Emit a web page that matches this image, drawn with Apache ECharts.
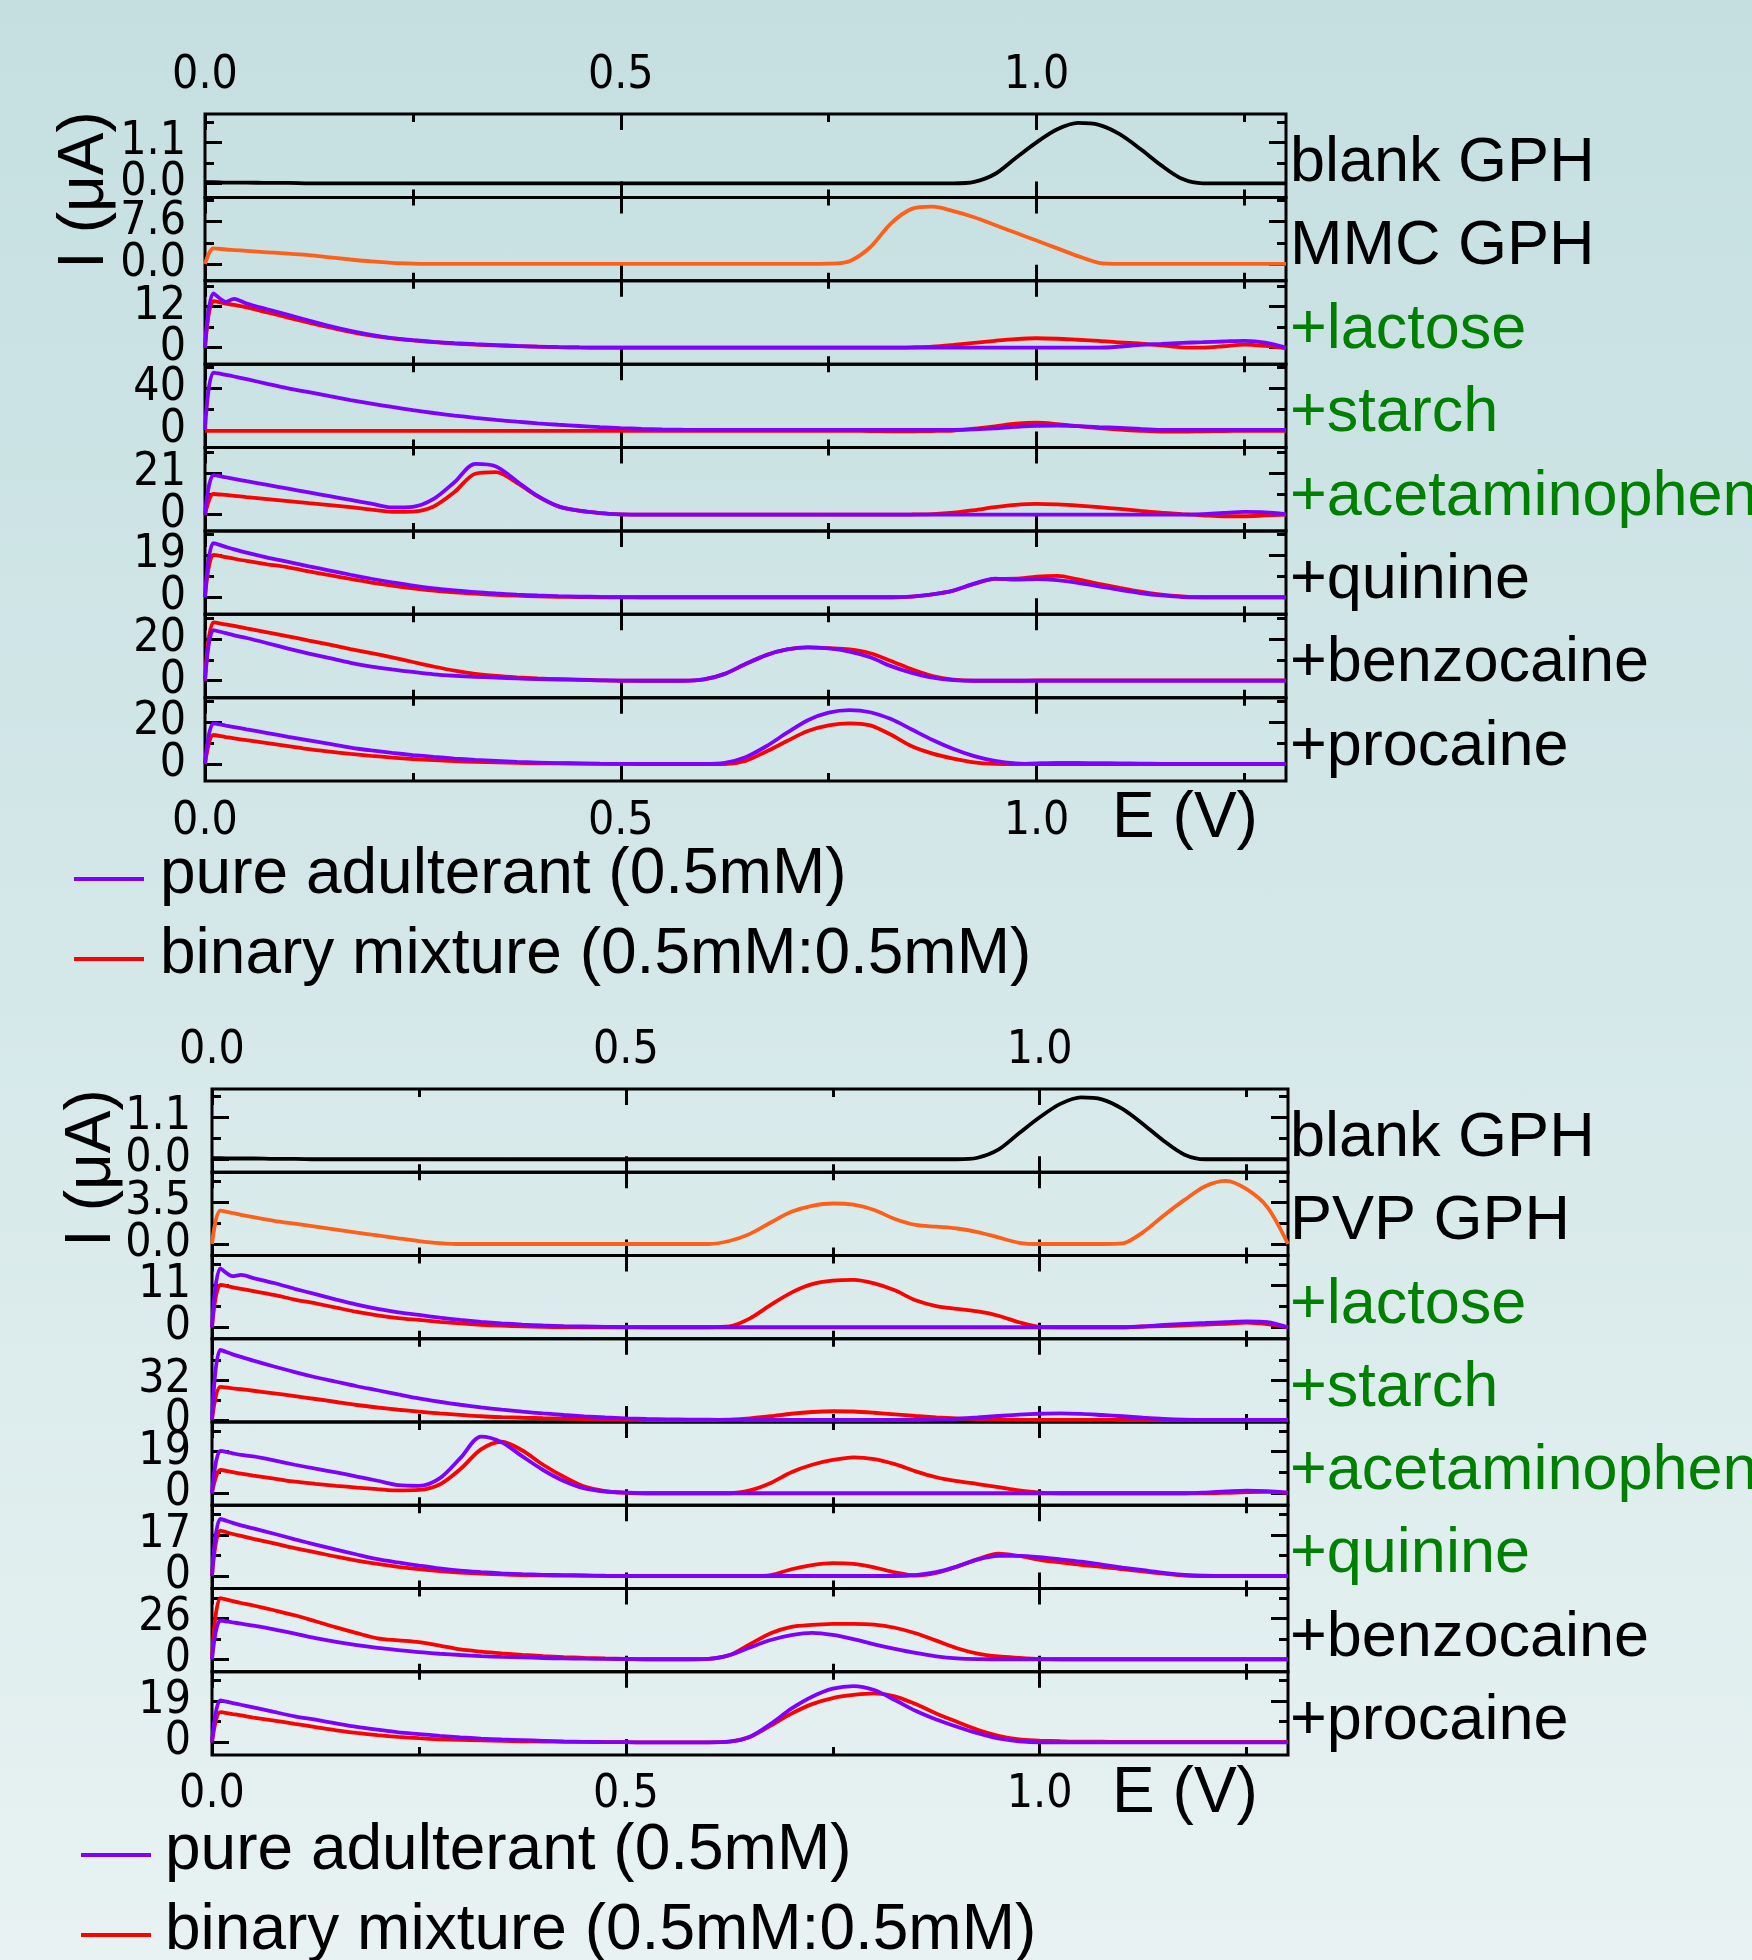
<!DOCTYPE html>
<html>
<head>
<meta charset="utf-8">
<title>GPH voltammograms</title>
<script src="https://cdn.jsdelivr.net/npm/echarts@6.0.0/dist/echarts.min.js"></script>
<style>
html,body{margin:0;padding:0;}
body{width:1752px;height:1960px;overflow:hidden;background:linear-gradient(180deg,#c5dfe1 0%,#d3e7e8 45%,#e8f2f2 100%);}
#chart{width:1752px;height:1960px;}
</style>
</head>
<body>
<div id="chart"></div>
<script>
// ---------- x grid (potential, V) ----------
const E = [0, 0.01, 0.025, 0.035, 0.05, 0.075, 0.1, 0.125, 0.15, 0.175, 0.2, 0.225, 0.25,
  0.275, 0.3, 0.325, 0.35, 0.375, 0.4, 0.425, 0.45, 0.475, 0.5,
  0.525, 0.55, 0.575, 0.6, 0.625, 0.65, 0.675, 0.7, 0.725, 0.75,
  0.775, 0.8, 0.825, 0.85, 0.875, 0.9, 0.925, 0.95, 0.975, 1.0,
  1.025, 1.05, 1.075, 1.1, 1.125, 1.15, 1.175, 1.2, 1.225, 1.25, 1.275, 1.3];

// ---------- currents (µA) ----------
const blankGPH = [0.03,0.03,0.02,0.02,0.02,0.01,0.01,0,0,0,0,0,0,
  0,0,0,0,0,0,0,0,0,0,
  0,0,0,0,0,0,0,0,0,0,
  0,0,0,0,0,0,0.04,0.25,0.68,1.1,
  1.45,1.62,1.57,1.32,0.92,0.48,0.12,0,0,0,0,0];

// MMC GPH figure
const mmcGPH = [0,2.8,2.6,2.5,2.35,2.1,1.85,1.6,1.2,0.8,0.45,0.2,0.07,
  0,0,0,0,0,0,0,0,0,0,
  0,0,0,0,0,0,0,0,0,0.05,
  0.5,3.0,7.3,9.9,10.3,9.5,8.4,7.0,5.6,4.2,
  2.8,1.4,0.2,0,0,0,0,0,0,0,0,0];
const mmcLacPure = [0,15.9,13.4,14.3,12.9,11.2,9.6,7.9,6.3,4.9,3.7,2.8,2.2,
  1.7,1.3,1.0,0.75,0.5,0.3,0.15,0.05,0,0,
  0,0,0,0,0,0,0,0,0,0,
  0,0,0,0,0,0,0,0,0,0,
  0,0,0,0.3,0.8,1.1,1.4,1.6,1.8,2.0,1.5,0];
const mmcLacMix = [0,13.6,12.9,12.5,11.8,10.3,8.8,7.3,5.9,4.6,3.5,2.7,2.1,
  1.6,1.2,0.9,0.65,0.45,0.3,0.15,0.05,0,0,
  0,0,0,0,0,0,0,0,0,0,
  0,0,0,0.1,0.3,0.8,1.4,2.0,2.5,2.75,
  2.6,2.3,2.0,1.5,1.2,0.7,0.1,0,0.4,0.9,0.5,-0.2];
const mmcStaPure = [0,54.6,52.5,51.0,48.5,44.0,39.7,36.0,32.2,28.5,25.2,22.0,19.0,
  16.2,13.8,11.6,9.6,7.9,6.4,5.0,3.8,2.7,1.8,
  1.1,0.6,0.3,0.1,0,0,0,0,0,0,
  0,0,0,0,0,0.1,0.5,1.5,3.0,4.0,
  4.1,3.6,2.8,2.0,1.0,0.2,0,0,0,0,0,0];
const mmcStaMix = [-0.8,-0.8,-0.8,-0.8,-0.8,-0.8,-0.8,-0.8,-0.8,-0.8,-0.8,-0.8,-0.8,
  -0.8,-0.8,-0.8,-0.8,-0.8,-0.8,-0.8,-0.8,-0.8,-0.8,
  -0.8,-0.8,-0.8,-0.8,-0.8,-0.8,-0.8,-0.8,-0.8,-0.8,
  -0.8,-1.0,-1.2,-1.2,-1.0,-0.5,1.2,3.5,6.0,6.9,
  5.6,3.6,1.8,0.3,-0.8,-1.5,-1.5,-1.2,-1.0,-0.8,-0.8,-0.8];
const mmcAcePure = [0,20.1,19.0,18.2,17.0,15.1,13.2,11.3,9.4,7.5,5.6,3.7,4.0,
  8.0,16.5,25.8,24.5,17.0,9.5,4.2,2.0,0.8,0.2,
  0,0,0,0,0,0,0,0,0,0,
  0,0,0,0,0,0,0,0,0,0,
  0,0,0,0,0,0,0,0.3,0.9,1.4,1.2,0.3];
const mmcAceMix = [0,10.5,10.0,9.6,8.9,7.9,6.9,5.9,4.9,3.8,2.6,1.5,1.6,
  4.2,11.5,20.8,21.6,16.2,9.3,4.2,2.0,0.8,0.2,
  0,0,0,0,0,0,0,0,0,0,
  0,0,0,0.1,0.3,1.0,2.3,3.8,5.0,5.5,
  5.2,4.6,3.8,2.9,1.9,1.0,0.3,-0.3,-0.8,-0.8,-0.4,0];
const mmcQuiPure = [0,24.3,22.6,21.5,20.0,17.8,15.9,13.9,12.0,10.1,8.3,6.7,5.2,
  4.0,3.1,2.3,1.7,1.2,0.8,0.5,0.3,0.15,0.05,
  0,0,0,0,0,0,0,0,0,0,
  0,0,0,0.3,1.3,3.0,6.1,8.4,7.9,8.1,
  7.7,6.5,4.9,3.3,1.9,0.8,0.1,0,0,0,0,0];
const mmcQuiMix = [0,19.0,18.0,17.3,16.3,14.8,13.4,11.6,9.9,8.2,6.6,5.2,4.0,
  3.0,2.2,1.6,1.1,0.7,0.4,0.2,0.1,0,0,
  0,0,0,0,0,0,0,0,0,0,
  0,0,0,0.3,1.3,3.0,6.0,8.2,8.3,9.3,
  9.6,8.0,6.0,4.2,2.5,1.2,0.4,0,0,0,0,0];
const mmcBenPure = [0,24.3,22.8,21.8,20.5,18.0,15.4,13.0,10.8,8.6,6.8,5.4,4.2,
  3.1,2.4,1.9,1.5,1.1,0.8,0.6,0.4,0.2,0.1,
  0,0,0,0.6,3.3,8.0,12.3,15.0,16.0,15.5,
  14.0,11.3,7.0,3.8,1.5,0.3,0,0,0,0,
  0,0,0,0,0,0,0,0,0,0,0,0];
const mmcBenMix = [0,28.0,27.0,26.3,25.1,23.2,21.3,19.3,17.3,15.2,13.3,11.2,9.0,
  6.8,4.8,3.3,2.3,1.6,1.1,0.8,0.5,0.2,0,
  0,0,0,0.6,3.3,8.0,12.3,15.0,16.0,15.6,
  15.0,13.2,9.5,5.5,2.2,0.5,0,0,0,0.2,
  0.2,0.2,0.2,0.2,0.2,0.2,0.2,0.2,0.2,0.2,0.2,0.2];
const mmcProPure = [0,19.5,18.4,17.7,16.6,14.8,13.0,11.3,9.6,7.9,6.5,5.3,4.3,
  3.4,2.6,2.0,1.5,1.0,0.7,0.45,0.3,0.15,0.05,
  0,0,0,0,0.5,3.2,8.5,15.0,21.0,24.6,
  25.8,24.8,21.5,16.5,11.5,7.2,3.8,1.5,0.3,0,
  0,0,0,0,0,0,0,0,0,0,0,0];
const mmcProMix = [0,13.9,12.9,12.3,11.4,10.0,8.6,7.1,5.9,4.8,3.9,3.1,2.4,
  1.85,1.4,1.0,0.75,0.5,0.35,0.25,0.2,0.1,0.05,
  0,0,0,0,0,1.5,6.0,11.0,15.8,18.5,
  19.5,18.5,14.0,8.5,5.0,2.6,0.8,0.1,0,0.3,
  0.5,0.5,0.4,0.3,0.2,0.1,0,0,0,0,0,0];

// PVP GPH figure
const pvpGPH = [0,2.8,2.6,2.45,2.25,1.95,1.7,1.45,1.2,0.95,0.72,0.48,0.25,
  0.08,0,0,0,0,0,0,0,0,0,
  0,0,0,0,0.25,0.85,1.8,2.7,3.2,3.4,
  3.3,2.85,2.1,1.6,1.45,1.3,1.0,0.55,0.1,0,
  0,0,0,0.05,1.0,2.4,3.7,4.85,5.3,4.6,3.1,0];
const pvpLacPure = [0,15.3,13.3,13.6,12.8,11.5,10.0,8.6,7.2,5.9,4.8,3.9,3.2,
  2.5,1.9,1.4,1.0,0.7,0.45,0.3,0.2,0.1,0.05,
  0,0,0,0,0,0,0,0,0,0,
  0,0,0,0,0,0,0,0,0,0,
  0,0,0,0,0.2,0.6,0.9,1.1,1.3,1.5,1.3,0];
const pvpLacMix = [0,11.0,10.4,10.0,9.4,8.4,7.2,6.2,5.1,4.0,3.1,2.4,1.9,
  1.4,1.0,0.65,0.4,0.25,0.1,0.05,0,0,0,
  0,0,0,0,0.2,2.3,5.8,9.0,11.2,12.1,
  12.3,11.4,9.6,7.0,5.5,4.8,4.1,3.0,1.3,0.1,
  0,0,0,0,0.2,0.3,0.5,0.7,0.9,1.2,0.8,0];
const pvpStaPure = [0,56.0,52.5,50.5,47.5,42.8,38.3,34.2,30.6,27.0,23.8,20.5,17.3,
  14.6,12.2,10.1,8.3,6.7,5.3,4.0,2.9,2.0,1.3,
  0.8,0.5,0.3,0.2,0.1,0,0,0,0,0,
  0,0,0,0,0.3,1.0,2.0,3.2,4.3,5.0,
  5.3,4.9,4.0,3.0,1.8,0.8,0.2,0,0,0,0,0];
const pvpStaMix = [0,26.5,25.3,24.6,23.4,21.3,19.1,16.8,14.4,12.0,10.0,8.2,6.7,
  5.3,4.1,3.0,2.3,1.8,1.4,1.1,0.8,0.4,0.1,
  0,0,0,0,0.3,1.3,3.0,5.0,6.4,7.0,
  6.8,5.8,4.5,3.2,2.1,1.3,0.8,0.4,0.2,0.1,
  0.1,0.1,0.1,0,0,0,0,0,0,0,0,0];
const pvpAcePure = [0,19.3,18.2,17.5,16.8,15.0,13.0,11.2,9.5,7.6,5.7,3.7,3.4,
  6.8,16.0,25.8,23.3,16.8,10.6,5.6,2.2,0.8,0.3,
  0,0,0,0,0,0,0,0,0,0,
  0,0,0,0,0,0,0,0,0,0,
  0,0,0,0,0,0,0,0.3,0.8,1.2,1.0,0.3];
const pvpAceMix = [0,10.6,9.6,8.9,8.0,6.7,5.3,4.3,3.4,2.6,1.9,1.3,1.5,
  4.0,11.0,20.0,23.5,19.5,13.0,7.5,3.0,1.0,0.2,
  0,0,0,0,0,1.3,4.7,9.6,13.0,15.2,
  16.4,15.6,13.3,10.0,7.3,5.5,4.2,2.8,1.3,0.3,
  0,0,0,0,0,0,0,0,0.2,0.5,0.6,0.2];
const pvpQuiPure = [0,23.6,22.0,21.0,19.7,17.5,15.2,13.0,10.9,8.9,7.0,5.6,4.3,
  3.1,2.2,1.6,1.1,0.75,0.5,0.35,0.25,0.1,0,
  0,0,0,0,0,0,0,0,0,0,
  0,0,0,0.4,1.6,3.9,6.8,8.3,8.3,7.8,
  6.9,5.9,4.7,3.5,2.4,1.3,0.5,0.1,0,0,0,0];
const pvpQuiMix = [0,18.8,17.4,16.6,15.4,13.5,11.5,9.8,8.0,6.4,5.0,3.8,2.8,
  2.0,1.4,0.95,0.65,0.4,0.25,0.15,0.1,0,0,
  0,0,0,0,0,0,0.4,2.8,4.5,5.3,
  5.0,3.6,1.5,0.2,1.3,3.9,7.0,9.3,8.3,6.7,
  5.6,4.6,3.8,2.8,1.9,1.0,0.2,0,0,0,0,0];
const pvpBenPure = [0,24.6,23.4,22.6,21.3,18.9,16.2,13.4,11.0,8.9,7.2,5.8,4.5,
  3.5,2.7,2.0,1.5,1.2,0.8,0.5,0.35,0.2,0.1,
  0,0,0,0.2,2.6,7.5,12.2,15.3,16.8,15.5,
  12.8,9.5,6.6,4.0,1.9,0.6,0.1,0,0,0,
  0,0,0,0,0,0,0,0,0,0,0,0];
const pvpBenMix = [0,38.8,36.9,35.7,34.1,31.1,27.9,24.1,20.2,16.6,13.3,12.0,10.8,
  8.7,6.2,4.8,3.7,2.8,2.0,1.4,0.9,0.5,0.2,
  0,0,0,0.3,2.5,9.5,16.5,20.5,21.8,22.4,
  22.5,22.0,20.0,16.5,11.8,7.0,3.6,1.8,0.9,0.2,
  0,0,0,0,0,0,0,0,0,0,0,0];
const pvpProPure = [0,19.3,18.1,17.3,16.1,14.0,12.0,10.4,8.7,7.1,5.8,4.6,3.8,
  3.0,2.3,1.7,1.3,1.0,0.7,0.4,0.25,0.1,0.05,
  0,0,0,0,0.3,2.6,8.5,15.5,21.0,24.7,
  25.9,24.1,19.5,14.5,10.5,7.2,4.2,1.8,0.5,0,
  0,0,0,0,0,0,0,0,0,0,0,0];
const pvpProMix = [0,13.9,13.0,12.4,11.4,10.0,8.5,7.0,5.5,4.3,3.3,2.5,1.9,
  1.4,1.1,0.85,0.65,0.5,0.35,0.25,0.2,0.1,0.05,
  0,0,0,0,0.3,2.5,7.7,13.2,17.6,20.4,
  21.8,22.5,21.2,17.6,13.3,9.5,5.8,3.0,1.3,0.8,
  0.5,0.3,0.3,0.2,0.2,0.2,0.2,0.2,0.2,0.2,0.2,0.2];

// ---------- axis ticks & labels ----------
const xTicks = [0, 0.5, 1.0];
const xMinorTicks = [0.25, 0.75, 1.25];
const topTicks = [1.1, 7.6, 12, 40, 21, 19, 20, 20];
const botTicks = [1.1, 3.5, 11, 32, 19, 17, 26, 19];
const topDecimals = [1, 1, 0, 0, 0, 0, 0, 0];
const botDecimals = [1, 1, 0, 0, 0, 0, 0, 0];
const topRanges = [[-0.378,1.86],[-3.02,11.97],[-4.83,19.58],[-16.7,62.8],[-8.22,34.1],[-7.64,29.8],[-8.1,31.9],[-8.15,31.8]];
const botRanges = [[-0.34,1.84],[-0.965,6.02],[-2.99,18.66],[-1.6,65],[-5.48,32.5],[-5.18,29.3],[-7.93,44.9],[-5.84,32.5]];
const topLabels = ['blank GPH','MMC GPH','+lactose','+starch','+acetaminophen','+quinine','+benzocaine','+procaine'];
const botLabels = ['blank GPH','PVP GPH','+lactose','+starch','+acetaminophen','+quinine','+benzocaine','+procaine'];
const PURE = 'pure adulterant (0.5mM)';
const MIX = 'binary mixture (0.5mM:0.5mM)';
const legendNames = [PURE, MIX];

// ---------- styling ----------
const FONT = '"Liberation Sans", Arial, Helvetica, sans-serif';
const TICKFONT = '"Liberation Sans Narrow", "Arial Narrow", "DejaVu Sans Condensed", "Liberation Sans", sans-serif';
const TICKSIZE = 46;
const PURPLE = '#8000ff', RED = '#ff0000', ORANGE = '#ff6019', GREEN = '#008000', BLACK = '#000000';

const figs = [
  { left: 205, top: 114, width: 1081, ph: 83.375, yMargin: 19, xTopMargin: 15, xBotMargin: 18,
    labels: topLabels, labelColors: [BLACK, BLACK, GREEN, GREEN, GREEN, BLACK, BLACK, BLACK],
    ticks: topTicks, dec: topDecimals, ranges: topRanges, yLabelLift: [0,0,0,0,0,0,0,0],
    curves: [
      [['blank GPH', BLACK, blankGPH]],
      [['MMC GPH', ORANGE, mmcGPH]],
      [[MIX, RED, mmcLacMix], [PURE, PURPLE, mmcLacPure]],
      [[MIX, RED, mmcStaMix], [PURE, PURPLE, mmcStaPure]],
      [[MIX, RED, mmcAceMix], [PURE, PURPLE, mmcAcePure]],
      [[MIX, RED, mmcQuiMix], [PURE, PURPLE, mmcQuiPure]],
      [[MIX, RED, mmcBenMix], [PURE, PURPLE, mmcBenPure]],
      [[MIX, RED, mmcProMix], [PURE, PURPLE, mmcProPure]]
    ],
    ilabel: [85, 190], elabel: [1185, 819],
    legend: { x1: 74, x2: 144, tx: 160, y: [879, 959] } },
  { left: 212, top: 1089, width: 1076, ph: 83.25, yMargin: 21, xTopMargin: 15, xBotMargin: 17,
    labels: botLabels, labelColors: [BLACK, BLACK, GREEN, GREEN, GREEN, GREEN, BLACK, BLACK],
    ticks: botTicks, dec: botDecimals, ranges: botRanges, yLabelLift: [0,0,0,10,0,0,0,0],
    curves: [
      [['blank GPH', BLACK, blankGPH]],
      [['PVP GPH', ORANGE, pvpGPH]],
      [[MIX, RED, pvpLacMix], [PURE, PURPLE, pvpLacPure]],
      [[MIX, RED, pvpStaMix], [PURE, PURPLE, pvpStaPure]],
      [[MIX, RED, pvpAceMix], [PURE, PURPLE, pvpAcePure]],
      [[MIX, RED, pvpQuiMix], [PURE, PURPLE, pvpQuiPure]],
      [[MIX, RED, pvpBenMix], [PURE, PURPLE, pvpBenPure]],
      [[MIX, RED, pvpProMix], [PURE, PURPLE, pvpProPure]]
    ],
    ilabel: [92, 1168], elabel: [1185, 1794],
    legend: { x1: 81, x2: 151, tx: 165, y: [1855, 1935] } }
];

const grid = [], xAxis = [], yAxis = [], series = [], graphic = [];
const tickLine = { color: '#000', width: 3 };
const txt = (text, x, y, size, color, align, extra) => Object.assign({
  type: 'text', x: x, y: y, silent: true, z: 100,
  style: { text: text, fill: color, fontSize: size, fontFamily: FONT,
           textAlign: align, align: align, textVerticalAlign: 'middle', verticalAlign: 'middle' }
}, extra || {});

figs.forEach(f => {
  for (let i = 0; i < 8; i++) {
    const top = f.top + i * f.ph;
    grid.push({ left: f.left, top: top, width: f.width, height: f.ph, show: true,
      borderColor: '#000', borderWidth: 3, backgroundColor: 'rgba(0,0,0,0)', containLabel: false });
    const g = grid.length - 1;
    const xb = { gridIndex: g, type: 'value', min: 0, max: 1.3,
      axisLine: { show: false, onZero: false }, splitLine: { show: false } };
    const xl = (show, margin) => ({ show: show, customValues: xTicks, formatter: v => v.toFixed(1),
      showMinLabel: true, showMaxLabel: true, hideOverlap: false,
      fontSize: TICKSIZE, fontFamily: TICKFONT, color: '#000', margin: margin });
    xAxis.push(Object.assign({}, xb, { position: 'bottom',
      axisTick: { show: true, inside: true, length: 16, customValues: xTicks, lineStyle: tickLine },
      axisLabel: xl(i === 7, f.xBotMargin) }));
    xAxis.push(Object.assign({}, xb, { position: 'bottom',
      axisTick: { show: true, inside: true, length: 8, customValues: xMinorTicks, lineStyle: tickLine },
      axisLabel: { show: false } }));
    xAxis.push(Object.assign({}, xb, { position: 'top',
      axisTick: { show: true, inside: true, length: 16, customValues: xTicks, lineStyle: tickLine },
      axisLabel: xl(i === 0, f.xTopMargin) }));
    xAxis.push(Object.assign({}, xb, { position: 'top',
      axisTick: { show: true, inside: true, length: 8, customValues: xMinorTicks, lineStyle: tickLine },
      axisLabel: { show: false } }));

    const v = f.ticks[i], mn = f.ranges[i][0], mx = f.ranges[i][1], d = f.dec[i];
    const lift = f.yLabelLift[i];
    const major = [0, v];
    const minor = [-v / 2, v / 2, 1.5 * v].filter(t => t > mn && t < mx);
    const yb = { gridIndex: g, type: 'value', min: mn, max: mx,
      axisLine: { show: false, onZero: false }, splitLine: { show: false } };
    const yl = (vals) => ({ show: true, customValues: vals, formatter: t => t.toFixed(d),
      showMinLabel: true, showMaxLabel: true, hideOverlap: false,
      padding: [0, 0, 2 * lift, 0],
      fontSize: TICKSIZE, fontFamily: TICKFONT, color: '#000', margin: f.yMargin });
    // left: major ticks + label at v ; minor ticks + label at 0 (one label per axis avoids auto-hiding)
    yAxis.push(Object.assign({}, yb, { position: 'left',
      axisTick: { show: true, inside: true, length: 17, customValues: major, lineStyle: tickLine },
      axisLabel: yl([v]) }));
    yAxis.push(Object.assign({}, yb, { position: 'left',
      axisTick: { show: true, inside: true, length: 9, customValues: minor, lineStyle: tickLine },
      axisLabel: yl([0]) }));
    yAxis.push(Object.assign({}, yb, { position: 'right',
      axisTick: { show: true, inside: true, length: 17, customValues: major, lineStyle: tickLine },
      axisLabel: { show: false } }));
    yAxis.push(Object.assign({}, yb, { position: 'right',
      axisTick: { show: true, inside: true, length: 9, customValues: minor, lineStyle: tickLine },
      axisLabel: { show: false } }));

    f.curves[i].forEach(c => {
      series.push({ type: 'line', name: c[0], xAxisIndex: 4 * g, yAxisIndex: 4 * g,
        data: E.map((x, k) => [x, c[2][k]]), showSymbol: false, symbol: 'none',
        smooth: 0.3, lineStyle: { color: c[1], width: 3.8 }, itemStyle: { color: c[1] },
        silent: true, clip: true, z: 3 });
    });

    graphic.push(txt(f.labels[i], 1290, top + f.ph / 2 + 8, 63, f.labelColors[i], 'left'));
  }
  graphic.push(txt('E (V)', f.elabel[0], f.elabel[1], 64, '#000', 'center'));
  graphic.push(txt('I (\u03bcA)', f.ilabel[0], f.ilabel[1], 64, '#000', 'center', { rotation: Math.PI / 2 }));
  const lg = f.legend;
  [PURPLE, RED].forEach((col, k) => {
    graphic.push({ type: 'line', silent: true, z: 100,
      shape: { x1: lg.x1, y1: lg.y[k], x2: lg.x2, y2: lg.y[k] },
      style: { stroke: col, lineWidth: 4 } });
    graphic.push(txt(legendNames[k], lg.tx, lg.y[k] - 4, 64, '#000', 'left'));
  });
});

const chart = echarts.init(document.getElementById('chart'), null, { renderer: 'canvas' });
chart.setOption({
  animation: false,
  backgroundColor: 'transparent',
  grid: grid, xAxis: xAxis, yAxis: yAxis, series: series, graphic: graphic
});
</script>
</body>
</html>
